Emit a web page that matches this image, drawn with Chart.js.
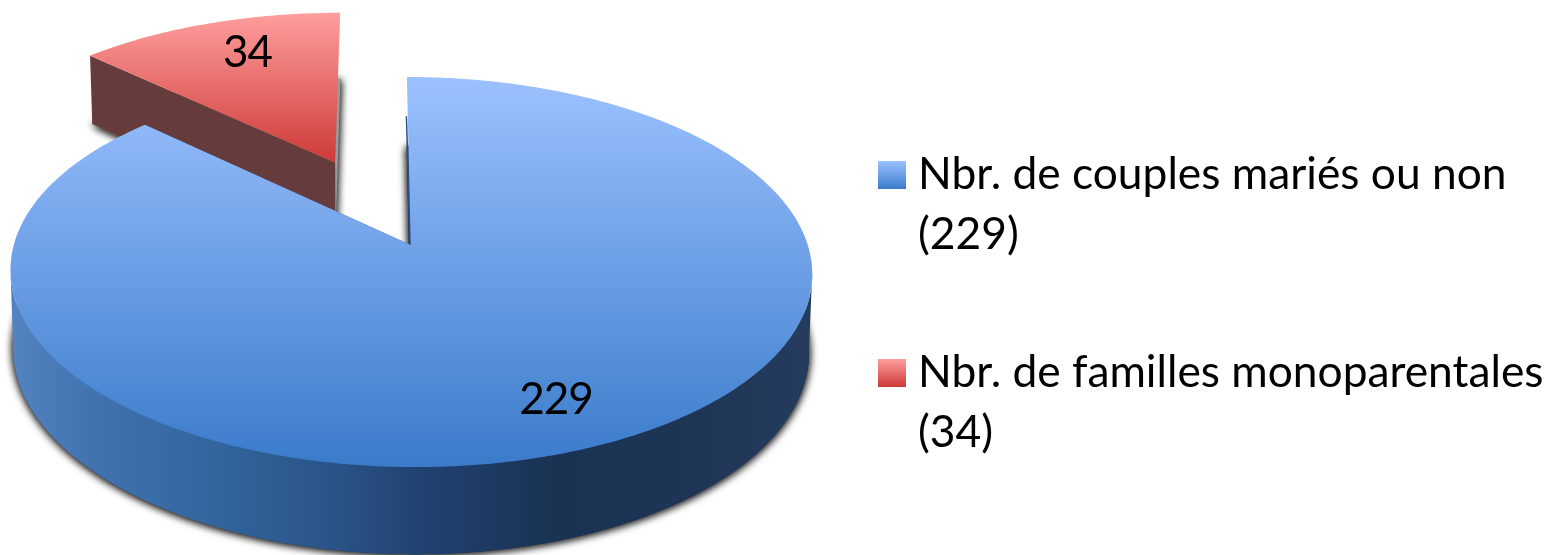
<!DOCTYPE html>
<html><head><meta charset="utf-8">
<style>html,body{margin:0;padding:0;background:#fff}canvas{display:block}</style>
<script src="https://cdn.jsdelivr.net/npm/chart.js@4/dist/chart.umd.min.js"></script>
</head><body>
<canvas id="c" width="1554" height="555"></canvas>
<script>
const categories = ["Nbr. de couples mariés ou non", "Nbr. de familles monoparentales"];
const values = [229, 34];
const explode = [0, 0.5];

const FONT = 'Lato, Carlito, Calibri, sans-serif';
// perspective camera of the 3D pie: top face (t=0), bottom face (t=1)
const cam = {x0:379, uShift:0.08, k:0.1385,
  y0:t=>245+77*t, A:t=>191.3+8.7*t, B:t=>397-3*t};
function project(u,v,t){
  const w=1-cam.k*v;
  return [cam.x0+cam.B(t)*(u+cam.uShift)/w, cam.y0(t)+cam.A(t)*v/w];
}
function vGrad(ctx,y1,y2,c1,c2){const g=ctx.createLinearGradient(0,y1,0,y2);g.addColorStop(0,c1);g.addColorStop(1,c2);return g;}
function rimPts(ou,ov,a1,a2,t){
  const n=Math.max(2,Math.ceil(Math.abs(a2-a1)*80)),p=[];
  for(let i=0;i<=n;i++){const a=a1+(a2-a1)*i/n;p.push(project(ou+Math.cos(a),ov+Math.sin(a),t));}
  return p;
}
function poly(ctx,pts){ctx.beginPath();pts.forEach((p,i)=>i?ctx.lineTo(p[0],p[1]):ctx.moveTo(p[0],p[1]));ctx.closePath();}

const styles=[
  {top:['#9cc1ff',77,'#3a7bca',467]},
  {top:['#ff9f9e',12,'#cd3a36',163]}
];

const pie3d={
  id:'pie3d',
  beforeDatasetsDraw(chart){
    const ctx=chart.ctx, arcs=chart.getDatasetMeta(0).data;
    const sideGrad=ctx.createLinearGradient(10,0,813,0);
    [[0,'#5484c2'],[0.1,'#4173b0'],[0.25,'#33659f'],[0.4,'#2a5488'],[0.52,'#20416f'],[0.68,'#1a3353'],[0.85,'#1e3556'],[1,'#263c5e']]
      .forEach(s=>sideGrad.addColorStop(s[0],s[1]));
    [1,0].forEach(i=>{
      const arc=arcs[i], mid=(arc.startAngle+arc.endAngle)/2;
      const ou=explode[i]*Math.cos(mid), ov=explode[i]*Math.sin(mid);
      const a1=arc.startAngle,a2=arc.endAngle;
      const isBlue=i===0;
      const face=t=>[project(ou,ov,t),...rimPts(ou,ov,a1,a2,t)];
      // bottom face with its soft shadow
      ctx.save();
      ctx.shadowColor='rgba(0,0,0,0.8)';ctx.shadowBlur=8;ctx.shadowOffsetY=1;
      ctx.fillStyle=isBlue?sideGrad:'#9a9a9a';
      poly(ctx,face(1));ctx.fill();ctx.fill();
      ctx.restore();
      ctx.fillStyle=sideGrad;
      // outer rim wall, front half only
      const f1=Math.max(a1,0.14), f2=Math.min(a2,Math.PI-0.14);
      if(isBlue&&f2>f1){poly(ctx,[...rimPts(ou,ov,f1,f2,0),...rimPts(ou,ov,f1,f2,1).reverse()]);ctx.fill();}
      // radial cut wall
      const a=isBlue?a2:a1;
      const u=ou+Math.cos(a),v=ov+Math.sin(a);
      poly(ctx,[project(ou,ov,0),project(u,v,0),project(u,v,1),project(ou,ov,1)]);
      ctx.fillStyle=isBlue?'#2c4f80':'#663b3b';ctx.fill();
      if(isBlue){
        // thin visible edge of the cut on the notch
        const u1=ou+Math.cos(a1),v1=ov+Math.sin(a1);
        const p=project(ou,ov,0),q=project(u1,v1,1);
        ctx.strokeStyle='#2c4f80';ctx.lineWidth=1.5;
        ctx.beginPath();ctx.moveTo(p[0]-0.3,p[1]);ctx.lineTo(q[0]-0.3,q[1]-30);ctx.stroke();
      }
      // top face
      const s=styles[i].top;
      ctx.fillStyle=vGrad(ctx,s[1],s[3],s[0],s[2]);
      poly(ctx,face(0));ctx.fill();
    });
    // value labels
    ctx.fillStyle='#000';ctx.textAlign='center';ctx.textBaseline='alphabetic';
    ctx.font='44px '+FONT;
    ctx.letterSpacing='-1px';
    arcs.forEach((arc,i)=>{
      const mid=(arc.startAngle+arc.endAngle)/2;
      const ou=explode[i]*Math.cos(mid), ov=explode[i]*Math.sin(mid);
      const p=project(ou+0.79*Math.cos(mid),ov+0.79*Math.sin(mid),0);
      ctx.fillText(String(values[i]),p[0]+(i?15:4),p[1]+(i?17:15));
    });
    ctx.letterSpacing='0px';
    // legend
    ctx.textAlign='left';
    const rows=[161,359];
    categories.forEach((name,i)=>{
      const s=styles[i].top,y=rows[i];
      ctx.fillStyle=vGrad(ctx,y,y+28,s[0],s[2]);
      ctx.fillRect(878,y,28,28);
      ctx.fillStyle='#000';
      ctx.font='44.3px '+FONT;
      ctx.fillText(name,918,y+28);
      ctx.fillText('('+values[i]+')',918,y+88);
    });
    return false;
  }
};

new Chart(document.getElementById('c'),{
  type:'pie',
  data:{labels:categories,datasets:[{data:values,backgroundColor:['#4f81bd','#c0504d'],borderWidth:0}]},
  options:{responsive:false,animation:false,
    plugins:{legend:{display:false},tooltip:{enabled:false}}},
  plugins:[pie3d]
});
</script>
</body></html>
